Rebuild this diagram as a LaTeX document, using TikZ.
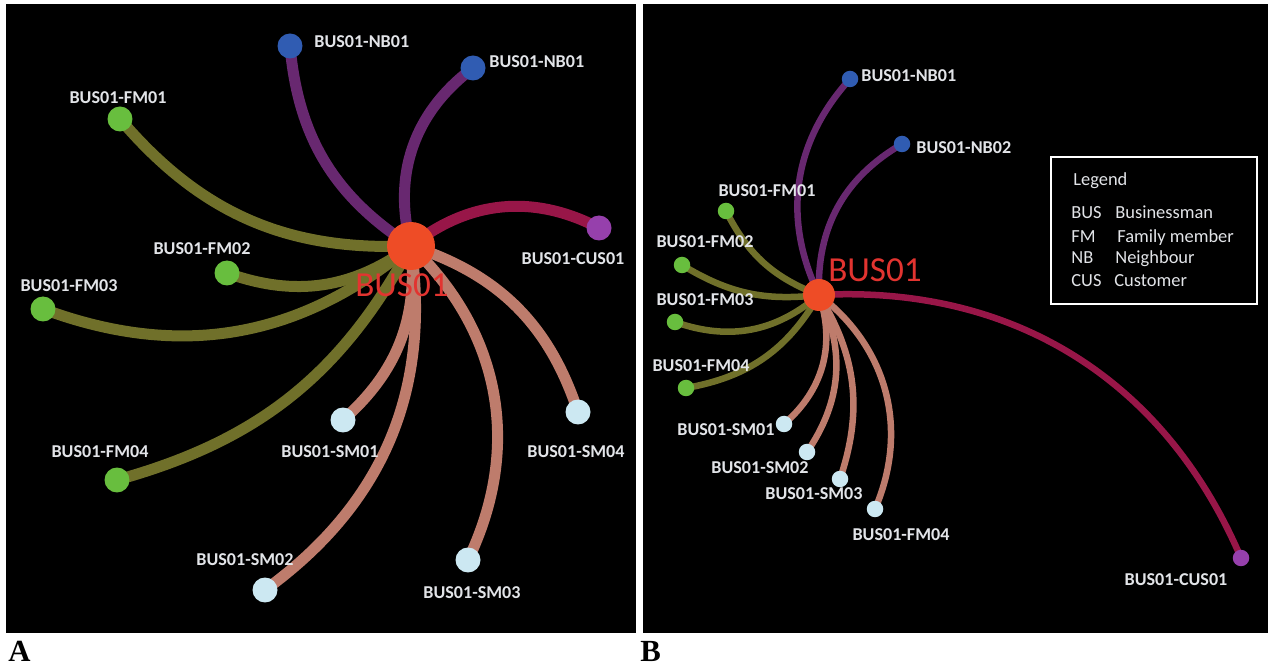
\documentclass[tikz,border=0pt]{standalone}
\usepackage{fontspec}
\setmainfont{Carlito}
\newfontfamily\tagfont{Liberation Serif}
\usepackage{tikz}

\definecolor{hubred}{RGB}{238,76,38}
\definecolor{busred}{RGB}{226,52,48}
\definecolor{nbblue}{RGB}{48,92,178}
\definecolor{fmgreen}{RGB}{104,190,62}
\definecolor{smblue}{RGB}{204,232,242}
\definecolor{cuspurple}{RGB}{150,64,172}
\definecolor{nbline}{RGB}{104,40,112}
\definecolor{fmline}{RGB}{112,112,42}
\definecolor{smline}{RGB}{190,124,108}
\definecolor{cusline}{RGB}{152,22,72}
\definecolor{lblgray}{RGB}{226,228,232}

\pgfdeclarelayer{panel}
\pgfdeclarelayer{edges}
\pgfsetlayers{panel,edges,main}

\tikzset{
  hubA/.style={circle,inner sep=0pt,fill=hubred,minimum size=0.96cm},
  hubB/.style={circle,inner sep=0pt,fill=hubred,minimum size=0.64cm},
  dotA/.style={circle,inner sep=0pt,fill=#1,minimum size=0.5cm},
  dotB/.style={circle,inner sep=0pt,fill=#1,minimum size=0.33cm},
  lbl/.style={inner sep=0pt,text=lblgray,font=\fontsize{10.3}{12}\selectfont\bfseries},
  hublbl/.style={inner sep=0pt,text=busred,font=\fontsize{20}{24}\selectfont},
  keytext/.style={inner sep=0pt,anchor=base west,text=lblgray,font=\fontsize{10.5}{12}\selectfont},
  linkA/.style={draw=#1,line width=0.22cm},
  linkB/.style={draw=#1,line width=0.13cm},
  tag/.style={inner sep=0pt,anchor=base west,font=\fontsize{17.5}{20}\selectfont\tagfont\bfseries}
}

\begin{document}
\begin{tikzpicture}[x=0.02cm,y=-0.02cm]
    \useasboundingbox (0,0) rectangle (1268,668);
    \begin{pgfonlayer}{panel}
      \fill[white] (0,0) rectangle (1268,668);
      \fill[black] (6,4) rectangle (636,633);
      \fill[black] (643,4) rectangle (1268,633);
    \end{pgfonlayer}

    \node[hubA] (a-bus) at (411,246) {};
    \node[dotA=nbblue] (a-nb1) at (290,46) {};
    \node[dotA=nbblue] (a-nb2) at (473,68) {};
    \node[dotA=fmgreen] (a-fm1) at (120,119) {};
    \node[dotA=fmgreen] (a-fm2) at (227,273) {};
    \node[dotA=fmgreen] (a-fm3) at (43,309) {};
    \node[dotA=fmgreen] (a-fm4) at (117,480) {};
    \node[dotA=cuspurple] (a-cus1) at (599,228) {};
    \node[dotA=smblue] (a-sm1) at (343,420) {};
    \node[dotA=smblue] (a-sm2) at (265,590) {};
    \node[dotA=smblue] (a-sm3) at (468,560) {};
    \node[dotA=smblue] (a-sm4) at (578,412) {};

    \node[hublbl] (a-bus-t) at (402,285) {BUS01};
    \node[lbl,anchor=west] (a-nb1-t) at (314,42) {BUS01-NB01};
    \node[lbl,anchor=west] (a-nb2-t) at (489,62) {BUS01-NB01};
    \node[lbl] (a-fm1-t) at (118,98) {BUS01-FM01};
    \node[lbl] (a-fm2-t) at (202,249) {BUS01-FM02};
    \node[lbl] (a-fm3-t) at (69,286) {BUS01-FM03};
    \node[lbl] (a-fm4-t) at (100,452) {BUS01-FM04};
    \node[lbl] (a-cus1-t) at (573,259) {BUS01-CUS01};
    \node[lbl] (a-sm1-t) at (330,452) {BUS01-SM01};
    \node[lbl] (a-sm2-t) at (245,560) {BUS01-SM02};
    \node[lbl] (a-sm3-t) at (472,593) {BUS01-SM03};
    \node[lbl] (a-sm4-t) at (576,452) {BUS01-SM04};

    \begin{pgfonlayer}{edges}
      \draw[linkA=nbline] (a-bus.center) to[bend left=26] (a-nb1.center);
      \draw[linkA=nbline] (a-bus.center) to[bend left=34] (a-nb2.center);
      \draw[linkA=fmline] (a-bus.center) to[bend left=26] (a-fm1.center);
      \draw[linkA=fmline] (a-bus.center) to[bend left=28] (a-fm2.center);
      \draw[linkA=fmline] (a-bus.center) to[bend left=30] (a-fm3.center);
      \draw[linkA=fmline] (a-bus.center) to[bend left=23] (a-fm4.center);
      \draw[linkA=cusline] (a-bus.center) to[bend left=33] (a-cus1.center);
      \draw[linkA=smline] (a-bus.center) to[bend left=27] (a-sm1.center);
      \draw[linkA=smline] (a-bus.center) to[bend left=31] (a-sm2.center);
      \draw[linkA=smline] (a-bus.center) to[bend left=36] (a-sm3.center);
      \draw[linkA=smline] (a-bus.center) to[bend left=27] (a-sm4.center);
    \end{pgfonlayer}

    \node[hubB] (b-bus) at (819,295) {};
    \node[dotB=nbblue] (b-nb1) at (850,79) {};
    \node[dotB=nbblue] (b-nb2) at (902,144) {};
    \node[dotB=fmgreen] (b-fm1) at (726,211) {};
    \node[dotB=fmgreen] (b-fm2) at (682,265) {};
    \node[dotB=fmgreen] (b-fm3) at (675,322) {};
    \node[dotB=fmgreen] (b-fm4) at (686,388) {};
    \node[dotB=smblue] (b-sm1) at (784,424) {};
    \node[dotB=smblue] (b-sm2) at (807,452) {};
    \node[dotB=smblue] (b-sm3) at (840,479) {};
    \node[dotB=smblue] (b-sm4) at (875,509) {};
    \node[dotB=cuspurple] (b-cus1) at (1241,558) {};

    \node[hublbl] (b-bus-t) at (875,270) {BUS01};
    \node[lbl,anchor=west] (b-nb1-t) at (861,76) {BUS01-NB01};
    \node[lbl,anchor=west] (b-nb2-t) at (916,148) {BUS01-NB02};
    \node[lbl] (b-fm1-t) at (767,191) {BUS01-FM01};
    \node[lbl] (b-fm2-t) at (705,242) {BUS01-FM02};
    \node[lbl] (b-fm3-t) at (705,300) {BUS01-FM03};
    \node[lbl] (b-fm4-t) at (701,366) {BUS01-FM04};
    \node[lbl] (b-sm1-t) at (726,430) {BUS01-SM01};
    \node[lbl] (b-sm2-t) at (760,468) {BUS01-SM02};
    \node[lbl] (b-sm3-t) at (814,494) {BUS01-SM03};
    \node[lbl] (b-sm4-t) at (901,535) {BUS01-FM04};
    \node[lbl] (b-cus1-t) at (1176,580) {BUS01-CUS01};

    \begin{pgfonlayer}{edges}
      \draw[linkB=nbline] (b-bus.center) to[bend left=34] (b-nb1.center);
      \draw[linkB=nbline] (b-bus.center) to[bend left=31] (b-nb2.center);
      \draw[linkB=fmline] (b-bus.center) to[bend left=21] (b-fm1.center);
      \draw[linkB=fmline] (b-bus.center) to[bend left=19] (b-fm2.center);
      \draw[linkB=fmline] (b-bus.center) to[bend left=30] (b-fm3.center);
      \draw[linkB=fmline] (b-bus.center) to[bend left=25] (b-fm4.center);
      \draw[linkB=smline] (b-bus.center) to[bend left=34] (b-sm1.center);
      \draw[linkB=smline] (b-bus.center) to[bend left=30] (b-sm2.center);
      \draw[linkB=smline] (b-bus.center) to[bend left=25] (b-sm3.center);
      \draw[linkB=smline] (b-bus.center) to[bend left=38] (b-sm4.center);
      \draw[linkB=cusline] (b-bus.center) to[bend left=35] (b-cus1.center);
    \end{pgfonlayer}

    \node[draw=white,line width=1.2pt,minimum width=4.12cm,minimum height=2.94cm] (legend) at (1154,230.5) {};
    \node[keytext] (key-title) at (1073,186) {Legend};
    \node[keytext] (key-bus) at (1071,219) {BUS};
    \node[keytext] (key-bus-d) at (1115,219) {Businessman};
    \node[keytext] (key-fm) at (1071,243) {FM};
    \node[keytext] (key-fm-d) at (1117,243) {Family member};
    \node[keytext] (key-nb) at (1071,264) {NB};
    \node[keytext] (key-nb-d) at (1115,264) {Neighbour};
    \node[keytext] (key-cus) at (1071,287) {CUS};
    \node[keytext] (key-cus-d) at (1114,287) {Customer};

    \node[tag] (tag-a) at (8,662) {A};
    \node[tag] (tag-b) at (640,662) {B};
  \end{tikzpicture}
\end{document}
